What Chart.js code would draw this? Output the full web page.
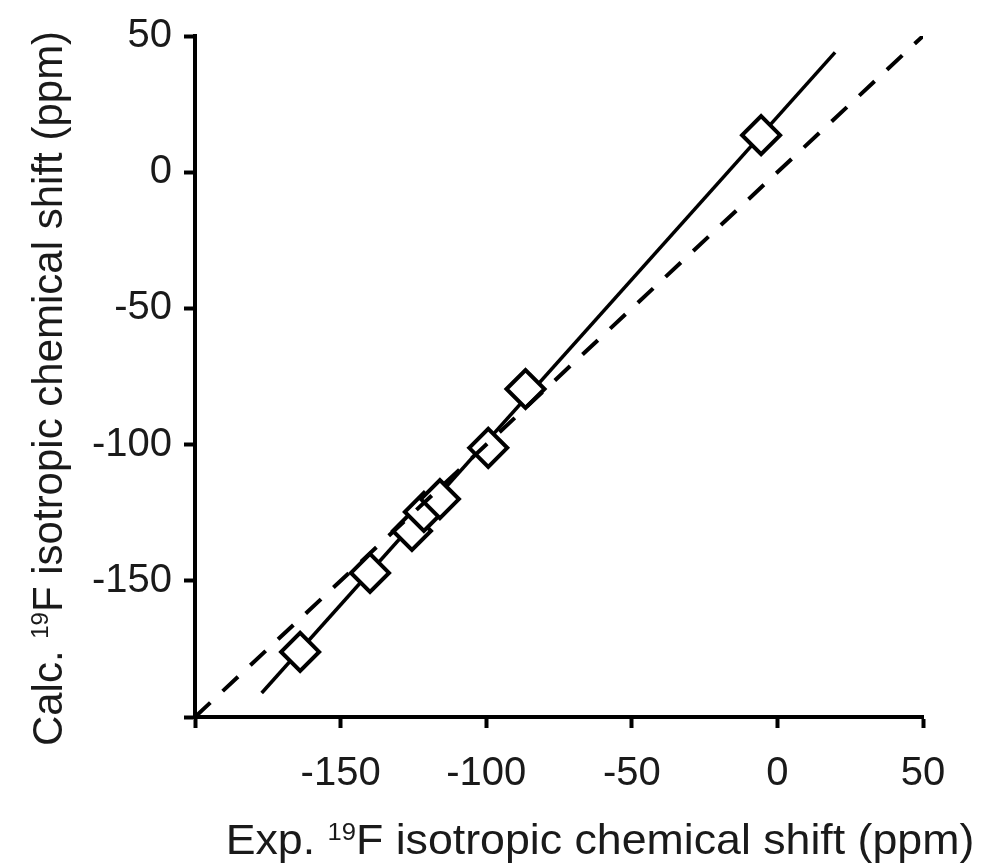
<!DOCTYPE html>
<html>
<head>
<meta charset="utf-8">
<title>19F isotropic chemical shift</title>
<script src="https://cdn.jsdelivr.net/npm/chart.js@4"></script>
<style>
    html, body {
        margin: 0;
        padding: 0;
        background: #ffffff;
    }
    #wrap {
        width: 1003px;
        height: 868px;
    }
</style>
</head>
<body>
<div id="wrap"><canvas id="shiftChart" width="1003" height="868"></canvas></div>
<script>
/* ==========================================
   Data
========================================== */

const expShift = [-163.9, -139.9, -125.5, -121.4, -115.9, -99.3, -86.5, -5.6];
const calcShift = [-176.1, -147.1, -131.7, -124.7, -120.0, -101.2, -79.6, 13.6];

// solid fit line, ends as drawn
const fitX = [-177.1, 19.8];
const fitY = [-191.2, 44.0];

// dashed y = x reference
const refX = [-200, 50];
const refY = [-200, 50];

const axisTicks = [-200, -150, -100, -50, 0, 50];

const xTitle = ['Exp. ', '19', 'F isotropic chemical shift (ppm)'];
const yTitle = ['Calc. ', '19', 'F isotropic chemical shift (ppm)'];

/* ==========================================
   Helpers
========================================== */

function toPoints(xs, ys) {
    return xs.map(function (x, i) {
        return { x: x, y: ys[i] };
    });
}

const FONT = '"Liberation Sans", Arial, sans-serif';
const TEXT = '#1a1a1a';

function drawSupTitle(ctx, parts, big, small, rise) {
    const widths = parts.map(function (part, i) {
        ctx.font = (i === 1 ? small : big) + 'px ' + FONT;
        return ctx.measureText(part).width;
    });
    const total = widths.reduce(function (a, b) { return a + b; }, 0);
    let x = -total / 2;
    parts.forEach(function (part, i) {
        ctx.font = (i === 1 ? small : big) + 'px ' + FONT;
        ctx.fillText(part, x, i === 1 ? -rise : 0);
        x += widths[i];
    });
}

const axisTitles = {
    id: 'axisTitles',
    afterDraw: function (chart) {
        const ctx = chart.ctx;
        const area = chart.chartArea;
        ctx.save();
        ctx.fillStyle = TEXT;
        ctx.textBaseline = 'alphabetic';
        ctx.textAlign = 'left';

        // x title, a little wider than tall like the source
        ctx.save();
        ctx.translate((area.left + area.right) / 2 + 41, area.bottom + 137);
        ctx.scale(1.064, 1);
        drawSupTitle(ctx, xTitle, 42, 24, 14);
        ctx.restore();

        // y title
        ctx.save();
        ctx.translate(62, (area.top + area.bottom) / 2 + 12);
        ctx.rotate(-Math.PI / 2);
        drawSupTitle(ctx, yTitle, 42, 24, 14);
        ctx.restore();

        ctx.restore();
    }
};

function axisOptions(fitSize, labelPad) {
    return {
        type: 'linear',
        min: axisTicks[0],
        max: axisTicks[axisTicks.length - 1],
        afterBuildTicks: function (scale) {
            scale.ticks = axisTicks.map(function (v) { return { value: v }; });
        },
        afterFit: fitSize,
        border: {
            display: true,
            color: '#000000',
            width: 4
        },
        grid: {
            display: true,
            drawOnChartArea: false,
            drawTicks: true,
            tickLength: 11,
            tickWidth: 4,
            tickColor: '#000000'
        },
        ticks: {
            color: TEXT,
            padding: labelPad,
            font: {
                family: FONT,
                size: 40
            },
            callback: function (value) {
                return value === axisTicks[0] ? '' : String(value);
            }
        }
    };
}

/* ==========================================
   Chart
========================================== */

document.addEventListener('DOMContentLoaded', function () {

    const canvas = document.getElementById('shiftChart');

    new Chart(canvas, {

        type: 'scatter',

        data: {
            datasets: [
                {
                    label: 'y = x',
                    data: toPoints(refX, refY),
                    showLine: true,
                    borderColor: '#000000',
                    borderWidth: 4,
                    borderDash: [21, 16.9],
                    pointRadius: 0,
                    order: 0
                },
                {
                    label: 'Calculated vs experimental',
                    data: toPoints(expShift, calcShift),
                    showLine: false,
                    pointStyle: 'rectRot',
                    pointRadius: 19,
                    pointHoverRadius: 19,
                    pointBorderWidth: 4,
                    pointBackgroundColor: '#ffffff',
                    pointBorderColor: '#000000',
                    order: 1
                },
                {
                    label: 'Fit',
                    data: toPoints(fitX, fitY),
                    showLine: true,
                    borderColor: '#000000',
                    borderWidth: 3.5,
                    pointRadius: 0,
                    order: 2
                }
            ]
        },

        options: {
            responsive: false,
            animation: false,
            layout: {
                padding: {
                    left: 0,
                    right: 80,
                    top: 33,
                    bottom: 0
                }
            },
            plugins: {
                legend: { display: false },
                tooltip: { enabled: false }
            },
            scales: {
                x: axisOptions(function (scale) { scale.height = 151; }, 22),
                y: axisOptions(function (scale) { scale.width = 195; }, 12)
            }
        },

        plugins: [axisTitles]

    });

});
</script>
</body>
</html>
